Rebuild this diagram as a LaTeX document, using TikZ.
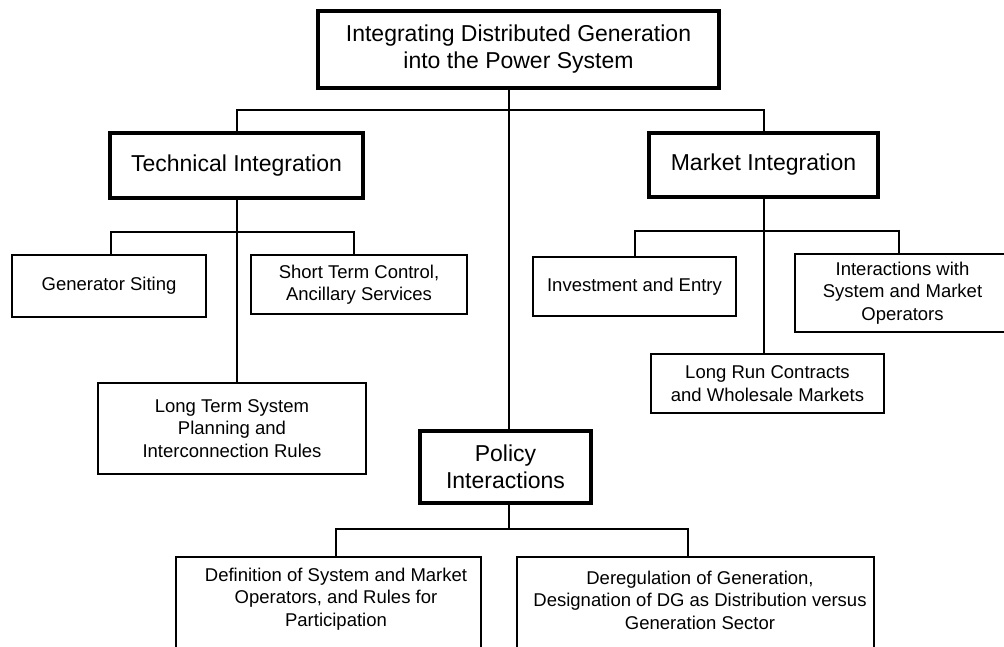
\documentclass[tikz,border=0pt]{standalone}
\usepackage{fontspec}
\setmainfont{Liberation Sans}
\tikzset{
  box/.style={draw, rectangle, inner sep=0pt, align=center, text=black},
  bigbox/.style={box, line width=4.5pt, font=\fontsize{23}{27}\selectfont},
  smallbox/.style={box, line width=2.5pt, font=\fontsize{18.5}{22.5}\selectfont},
  lbl/.style={align=center, inner sep=0pt, font=\fontsize{18.5}{22.5}\selectfont},
  conn/.style={line width=2pt},
}
\begin{document}
\begin{tikzpicture}[x=1pt,y=-1pt]
\useasboundingbox (0,0) rectangle (1004,646);
\clip (0,0) rectangle (1004,646);
% level 0
\node[bigbox, minimum width=401pt, minimum height=77pt] (top) at (518.5,49.5)
  {Integrating Distributed Generation\\into the Power System};
% level 1
\node[bigbox, minimum width=253pt, minimum height=65pt] (tech) at (236.5,165.5) {Technical Integration};
\node[bigbox, minimum width=229pt, minimum height=64pt] (market) at (763.5,165) {Market Integration};
\node[bigbox, minimum width=171pt, minimum height=72pt] (pol) at (505.5,467) {Policy\\Interactions};
% technical children
\node[smallbox, minimum width=194pt, minimum height=62pt] (gen) at (109,286) {Generator Siting};
\node[smallbox, minimum width=216pt, minimum height=59pt] (st) at (359,284.5) {Short Term Control,\\Ancillary Services};
\node[smallbox, minimum width=268pt, minimum height=91pt] (lt) at (232,428.5)
  {Long Term System\\Planning and\\Interconnection Rules};
% market children
\node[smallbox, minimum width=203pt, minimum height=59pt] (inv) at (634.5,286.5) {Investment and Entry};
\node[smallbox, minimum width=215pt, minimum height=78pt] (inter) at (902.5,293)
  {Interactions with\\System and Market\\Operators};
\node[smallbox, minimum width=233pt, minimum height=59pt] (lr) at (767.5,383.5)
  {Long Run Contracts\\and Wholesale Markets};
% policy children
\node[smallbox, minimum width=305pt, minimum height=143pt] (def) at (328.5,628.5) {};
\node[lbl] (deft) at (336,599) {Definition of System and Market\\Operators, and Rules for\\Participation};
\node[smallbox, minimum width=357pt, minimum height=143pt] (dereg) at (695.5,628.5) {};
\node[lbl] (deregt) at (700,600) {Deregulation of Generation,\\Designation of DG as Distribution versus\\Generation Sector};
% connectors
\coordinate (c0) at ([xshift=-9.5pt]top.south);
\draw[conn] (c0) -- (c0 |- pol.north);
\coordinate (b1) at (509,110);
\draw[conn] (tech.north) |- (b1) -| (market.north);
\draw[conn] (tech.south) -- (tech.south |- lt.north);
\coordinate (b2) at (233,232);
\draw[conn] ([xshift=2pt]gen.north) |- (b2) -| ([xshift=-5pt]st.north);
\draw[conn] (market.south) -- (market.south |- lr.north);
\coordinate (b3) at (764,231);
\draw[conn] (inv.north) |- (b3) -| ([xshift=-3.5pt]inter.north);
\coordinate (b4) at (509,529);
\draw[conn] (c0 |- pol.south) -- (b4);
\draw[conn] ([xshift=7.5pt]def.north) |- (b4) -| ([xshift=-7.5pt]dereg.north);
\end{tikzpicture}
\end{document}
